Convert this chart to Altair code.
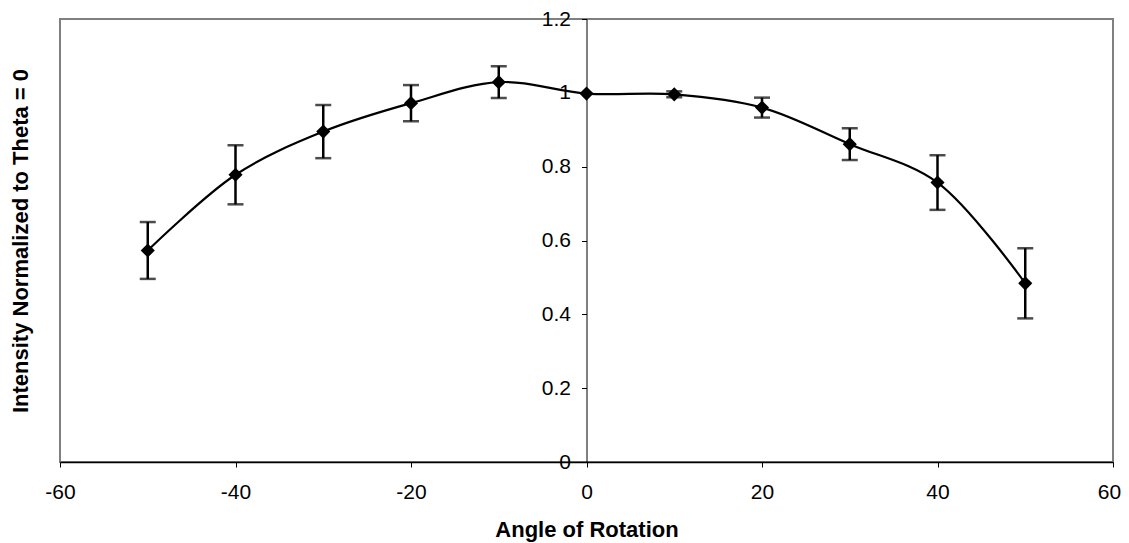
import altair as alt
import pandas as pd

angles = [-50, -40, -30, -20, -10, 0, 10, 20, 30, 40, 50]
intensity = [0.573, 0.778, 0.895, 0.972, 1.029, 0.998, 0.996, 0.960, 0.861, 0.757, 0.484]
errors = [0.077, 0.080, 0.072, 0.049, 0.043, 0.0, 0.008, 0.027, 0.043, 0.074, 0.095]

x_ticks = [-60, -40, -20, 0, 20, 40, 60]
y_ticks = [0, 0.2, 0.4, 0.6, 0.8, 1.0, 1.2]

df = pd.DataFrame({"angle": angles, "value": intensity, "err": errors})
df["lo"] = df["value"] - df["err"]
df["hi"] = df["value"] + df["err"]

W, H = 1053, 443
FONT = "Liberation Sans"
FS = 21
TFS = 22

xs = alt.Scale(domain=[-60, 60], nice=False, zero=False)
ys = alt.Scale(domain=[0, 1.2], nice=False)

x_enc = alt.X("angle:Q", scale=xs, axis=alt.Axis(
    values=x_ticks, title="Angle of Rotation", grid=False,
    labelExpr="datum.value + ''",
    labelOffset={"condition": {"test": "datum.value == 60", "value": -4}, "value": 0},
    domainColor="black", domainWidth=1.5, tickColor="black", tickSize=5, tickWidth=1,
    labelFont=FONT, labelFontSize=FS, labelColor="black", labelPadding=14,
    titleFont=FONT, titleFontSize=TFS, titleFontWeight="bold", titleColor="black",
    titlePadding=17, labelFlush=False))

y_enc = alt.Y("value:Q", scale=ys, axis=alt.Axis(
    values=y_ticks, format=".1~f", title="Intensity Normalized to Theta = 0", grid=False,
    offset=-W / 2, domainColor="black", domainWidth=1, tickColor="black", tickSize=5,
    labelFont=FONT, labelFontSize=FS, labelColor="black", labelPadding=11,
    titleFont=FONT, titleFontSize=TFS, titleFontWeight="bold", titleColor="black",
    titleX=-W / 2 - 40, titleY=H / 2, titleBaseline="middle", titleAngle=-90,
    labelFlush=False))

base = alt.Chart(df)

bars = base.mark_rule(color="black", strokeWidth=2.5).encode(
    x="angle:Q", y=alt.Y("lo:Q", scale=ys), y2="hi:Q")
caps_hi = base.transform_filter("datum.err > 0").mark_tick(
    orient="horizontal", color="black", size=16, thickness=2.5).encode(
    x="angle:Q", y=alt.Y("hi:Q", scale=ys))
caps_lo = base.transform_filter("datum.err > 0").mark_tick(
    orient="horizontal", color="black", size=16, thickness=2.5).encode(
    x="angle:Q", y=alt.Y("lo:Q", scale=ys))
line = base.mark_line(color="black", strokeWidth=2.2, interpolate="catmull-rom").encode(
    x=x_enc, y=y_enc)
pts = base.mark_point(shape="diamond", filled=True, color="black", size=200, opacity=1).encode(
    x="angle:Q", y="value:Q")

chart = alt.layer(line, bars, caps_hi, caps_lo, pts).properties(
    width=W, height=H,
    autosize=alt.AutoSizeParams(type="none"),
    padding={"left": 52, "top": 11, "right": 8, "bottom": 81},
    background="white",
).configure_view(stroke="#808080", strokeWidth=2)

chart.save("out.html", embed_options={"renderer": "svg", "actions": False})
